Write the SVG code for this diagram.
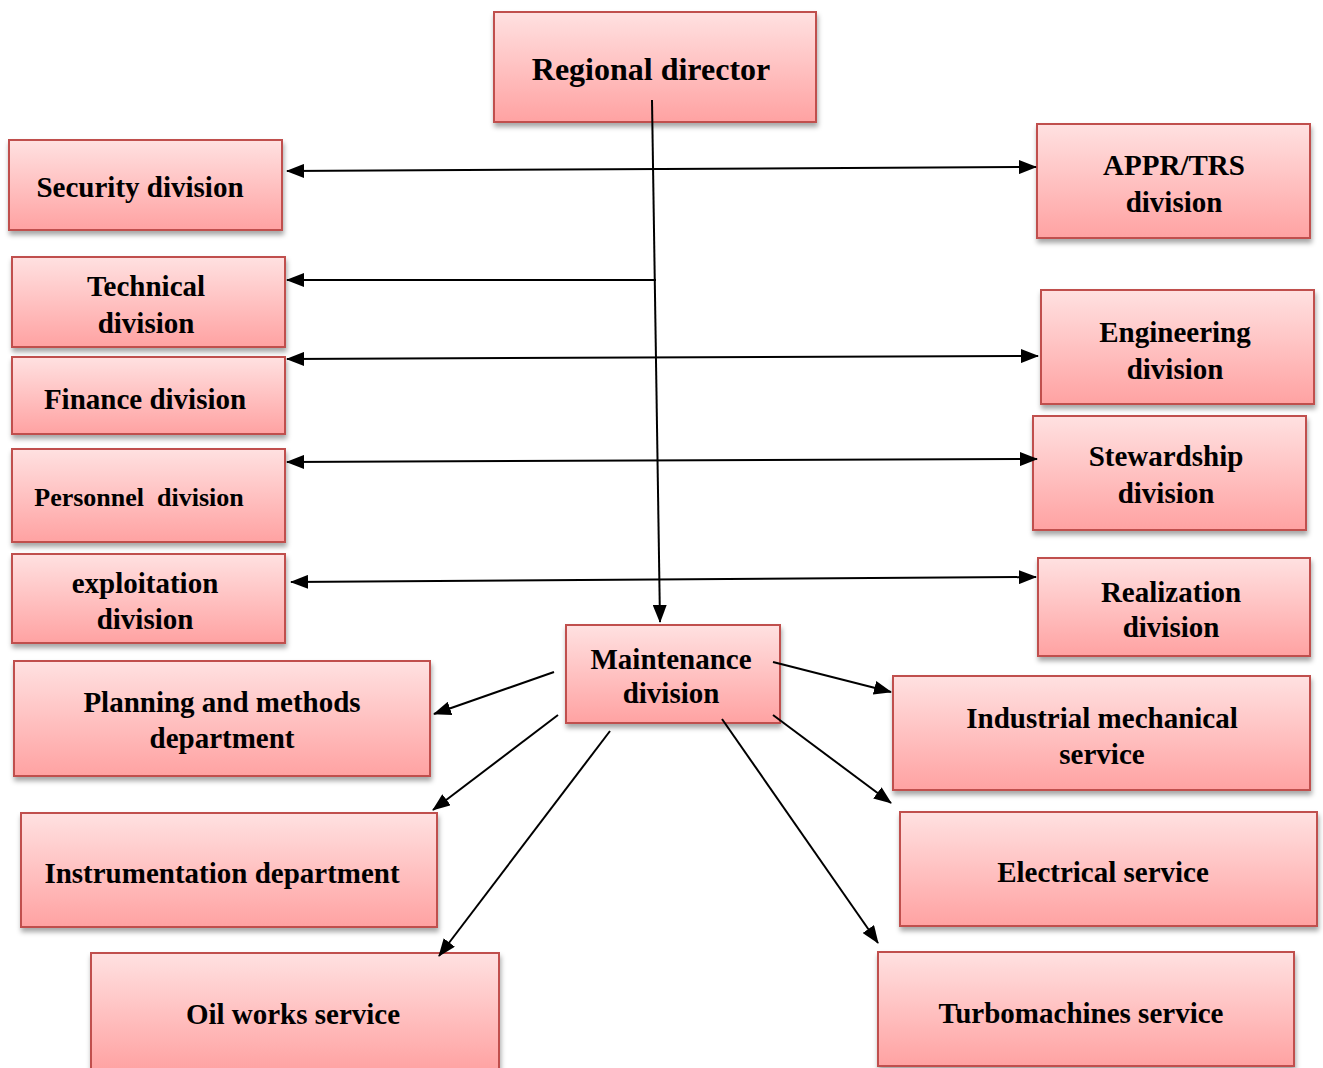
<svg xmlns="http://www.w3.org/2000/svg" width="1323" height="1068" viewBox="0 0 1323 1068">
<defs>
<linearGradient id="g" x1="0" y1="0" x2="0" y2="1">
<stop offset="0" stop-color="#ffe1e1"/>
<stop offset="1" stop-color="#ffa2a2"/>
</linearGradient>
<filter id="sh" x="-10%" y="-10%" width="125%" height="130%">
<feDropShadow dx="1" dy="4" stdDeviation="2.5" flood-color="#000" flood-opacity="0.35"/>
</filter>
<marker id="ah" markerUnits="userSpaceOnUse" markerWidth="18" markerHeight="14" refX="17" refY="7" orient="auto-start-reverse">
<path d="M0,0 L18,7 L0,14 Z" fill="#000"/>
</marker>
</defs>
<style>
.box{fill:url(#g);stroke:#c0504d;stroke-width:2;filter:url(#sh)}
text{font-family:"Liberation Serif","Times New Roman",serif;font-weight:bold;font-size:29px;fill:#000;text-anchor:middle}
.c{stroke:#000;stroke-width:2;fill:none}
</style>
<g id="regional-director"><rect class="box" x="494" y="12" width="322" height="110"/><text x="651" y="80" style="font-size:32px">Regional director</text></g>
<g id="security-division"><rect class="box" x="9" y="140" width="273" height="90"/><text x="140" y="197">Security division</text></g>
<g id="technical-division"><rect class="box" x="12" y="257" width="273" height="90"/><text x="146" y="296">Technical</text><text x="146" y="333">division</text></g>
<g id="finance-division"><rect class="box" x="12" y="357" width="273" height="77"/><text x="145" y="409">Finance division</text></g>
<g id="personnel-division"><rect class="box" x="12" y="449" width="273" height="93"/><text x="139" y="506" style="font-size:26px" xml:space="preserve">Personnel  division</text></g>
<g id="exploitation-division"><rect class="box" x="12" y="554" width="273" height="89"/><text x="145" y="593">exploitation</text><text x="145" y="629">division</text></g>
<g id="appr-trs-division"><rect class="box" x="1037" y="124" width="273" height="114"/><text x="1174" y="175">APPR/TRS</text><text x="1174" y="212">division</text></g>
<g id="engineering-division"><rect class="box" x="1041" y="290" width="273" height="114"/><text x="1175" y="342">Engineering</text><text x="1175" y="379">division</text></g>
<g id="stewardship-division"><rect class="box" x="1033" y="416" width="273" height="114"/><text x="1166" y="466">Stewardship</text><text x="1166" y="503">division</text></g>
<g id="realization-division"><rect class="box" x="1038" y="558" width="272" height="98"/><text x="1171" y="602">Realization</text><text x="1171" y="637">division</text></g>
<g id="maintenance-division"><rect class="box" x="566" y="625" width="214" height="98"/><text x="671" y="669">Maintenance</text><text x="671" y="703">division</text></g>
<g id="planning-methods"><rect class="box" x="14" y="661" width="416" height="115"/><text x="222" y="712">Planning and methods</text><text x="222" y="748">department</text></g>
<g id="industrial-mechanical"><rect class="box" x="893" y="676" width="417" height="114"/><text x="1102" y="728">Industrial mechanical</text><text x="1102" y="764">service</text></g>
<g id="instrumentation"><rect class="box" x="21" y="813" width="416" height="114"/><text x="222" y="883">Instrumentation department</text></g>
<g id="electrical"><rect class="box" x="900" y="812" width="417" height="114"/><text x="1103" y="882">Electrical service</text></g>
<g id="oil-works"><rect class="box" x="91" y="953" width="408" height="118"/><text x="293" y="1024">Oil works service</text></g>
<g id="turbomachines"><rect class="box" x="878" y="952" width="416" height="114"/><text x="1081" y="1023">Turbomachines service</text></g>
<g id="connectors">
<line class="c" x1="652" y1="100" x2="660" y2="622" marker-end="url(#ah)"/>
<line class="c" x1="287" y1="171" x2="1036" y2="167" marker-start="url(#ah)" marker-end="url(#ah)"/>
<line class="c" x1="656" y1="280" x2="287" y2="280" marker-end="url(#ah)"/>
<line class="c" x1="287" y1="359" x2="1038" y2="356" marker-start="url(#ah)" marker-end="url(#ah)"/>
<line class="c" x1="287" y1="462" x2="1037" y2="459" marker-start="url(#ah)" marker-end="url(#ah)"/>
<line class="c" x1="291" y1="582" x2="1036" y2="577" marker-start="url(#ah)" marker-end="url(#ah)"/>
<line class="c" x1="554" y1="672" x2="434" y2="714" marker-end="url(#ah)"/>
<line class="c" x1="773" y1="662" x2="891" y2="692" marker-end="url(#ah)"/>
<line class="c" x1="558" y1="715" x2="433" y2="810" marker-end="url(#ah)"/>
<line class="c" x1="610" y1="731" x2="439" y2="956" marker-end="url(#ah)"/>
<line class="c" x1="773" y1="715" x2="891" y2="803" marker-end="url(#ah)"/>
<line class="c" x1="722" y1="719" x2="878" y2="943" marker-end="url(#ah)"/>
</g>
</svg>
